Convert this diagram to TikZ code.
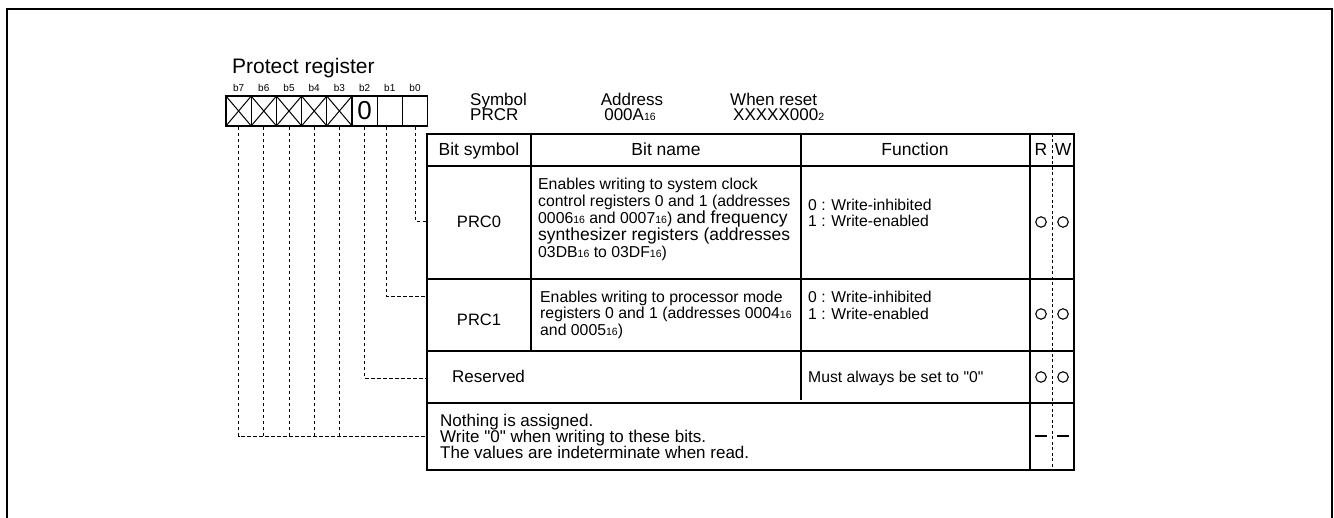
\documentclass[tikz,border=0pt]{standalone}
\usepackage{fontspec}
\setmainfont{Liberation Sans}[Ligatures=TeXOff]
\newcommand\fsz[1]{\fontsize{#1}{#1}\selectfont}
\newcommand\hx[1]{{\fsz{10.5}#1}}
\begin{document}
\begin{tikzpicture}[x=1pt,y=-1pt,
  frame/.style={line width=2.4pt},
  tl/.style={line width=1.4pt},
  dsh/.style={line width=0.9pt, dash pattern=on 3.5pt off 2.5pt},
  rwd/.style={line width=0.8pt, dash pattern=on 3pt off 2.5pt},
  regbox/.style={draw, line width=1.3pt, minimum width=25.2pt, minimum height=30pt, inner sep=0pt},
  blab/.style={inner sep=0pt, anchor=base, font=\fsz{10}},
  txt/.style={inner sep=0pt, anchor=base west, font=\fsz{15.8}},
  ftxt/.style={inner sep=0pt, anchor=base west, font=\fsz{15.7}},
  ntxt/.style={inner sep=0pt, anchor=base west, font=\fsz{17}},
  ctxt/.style={inner sep=0pt, anchor=base, font=\fsz{16.5}},
  hdr/.style={inner sep=0pt, anchor=base, font=\fsz{17.5}},
  top/.style={inner sep=0pt, font=\fsz{17}},
  ring/.style={draw, circle, line width=1.1pt, minimum size=10.5pt, inner sep=0pt}
]
\useasboundingbox (0,0) rectangle (1334,518);
\draw[frame] (7,530) -- (7,9) -- (1332,9) -- (1332,530);

% title
\node[inner sep=0pt, anchor=base west, font=\fsz{21}] (title) at (232,74) {Protect register};

% register boxes
\foreach \i in {7,...,0} {
  \node[regbox] (r\i) at ({226+25.2*(7-\i)+12.6},111) {};
  \node[blab] (l\i) at ({226+25.2*(7-\i)+12.6},92) {b\i};
}
\node[inner sep=0pt, font=\fsz{26}] (zero) at (r2.center) {0};
\foreach \i in {7,6,5,4,3} {
  \draw[line width=1pt] (r\i.north west) -- (r\i.south east) (r\i.south west) -- (r\i.north east);
}

% symbol / address / reset
\node[top, anchor=base west] (sym) at (470,106) {Symbol};
\node[top, anchor=base west] (prcr) at (470,121) {PRCR};
\node[top, anchor=base] (addr) at (632,106) {Address};
\node[top, anchor=base] (addrv) at (630,121) {000A\hx{16}};
\node[top, anchor=base west] (rst) at (730,106) {When reset};
\node[top, anchor=base west] (rstv) at (733,121) {XXXXX000\hx{2}};

% table
\coordinate (tnw) at (427,134);
\coordinate (tse) at (1074,470);
\draw[tl] (tnw) rectangle (tse);
\foreach \y in {166,279,351,403} { \draw[tl] (427,\y) -- (1074,\y); }
\draw[tl] (531,134) -- (531,351);
\draw[tl] (801,134) -- (801,400);
\draw[tl] (1030,134) -- (1030,470);
\draw[rwd] (1052,134) -- (1052,470);

% header
\node[hdr] (h1) at (479,156) {Bit symbol};
\node[hdr] (h2) at (666,156) {Bit name};
\node[hdr] (h3) at (915,156) {Function};
\node[hdr] (hr) at (1041,156) {R};
\node[hdr] (hw) at (1063,156) {W};

% PRC0
\node[ctxt] (p0) at (479,228) {PRC0};
\node[txt] (p0a) at (538,190) {Enables writing to system clock};
\node[txt] (p0b) at (538,207) {control registers 0 and 1 (addresses};
\node[txt] (p0c) at (538,224) {0006\hx{16} and 0007\hx{16}) {\fsz{17.5}and frequency}};
\node[txt, font=\fsz{17.5}] (p0d) at (538,241) {synthesizer registers (addresses};
\node[txt] (p0e) at (538,258) {03DB\hx{16} to 03DF\hx{16})};
\node[ftxt] (f0a) at (808,211) {0 : Write-inhibited};
\node[ftxt] (f0b) at (808,227) {1 : Write-enabled};
\node[ring] (c0r) at (1041,222) {};
\node[ring] (c0w) at (1063,222) {};

% PRC1
\node[ctxt] (p1) at (479,326) {PRC1};
\node[txt] (p1a) at (540,303) {Enables writing to processor mode};
\node[txt] (p1b) at (540,319) {registers 0 and 1 (addresses 0004\hx{16}};
\node[txt] (p1c) at (540,336) {and 0005\hx{16})};
\node[ftxt] (f1a) at (808,303) {0 : Write-inhibited};
\node[ftxt] (f1b) at (808,320) {1 : Write-enabled};
\node[ring] (c1r) at (1041,314) {};
\node[ring] (c1w) at (1063,314) {};

% Reserved
\node[ntxt] (res) at (452,383) {Reserved};
\node[ftxt] (f2) at (808,383) {Must always be set to "0"};
\node[ring] (c2r) at (1041,377) {};
\node[ring] (c2w) at (1063,377) {};

% Nothing assigned
\node[ntxt] (n1) at (440,427) {Nothing is assigned.};
\node[ntxt] (n2) at (440,443) {Write "0" when writing to these bits.};
\node[ntxt] (n3) at (440,459) {The values are indeterminate when read.};
\coordinate (d3r) at (1041,436);
\coordinate (d3w) at (1063,436);
\draw[line width=1.5pt] ([xshift=-6]d3r) -- ([xshift=6]d3r);
\draw[line width=1.5pt] ([xshift=-6]d3w) -- ([xshift=6]d3w);

% dashed leaders
\coordinate (e0) at (427,221);
\coordinate (e1) at (427,296);
\coordinate (e2) at (427,378);
\coordinate (e3) at (427,436);
\draw[dsh] (r0.south) |- (e0);
\draw[dsh] ([xshift=-3]r1.south) |- (e1);
\draw[dsh] (r2.south) |- (e2);
\draw[dsh] (r7.south) |- (e3);
\foreach \i in {6,5,4,3} { \draw[dsh] (r\i.south) -- (r\i.south |- e3); }
\end{tikzpicture}
\end{document}
